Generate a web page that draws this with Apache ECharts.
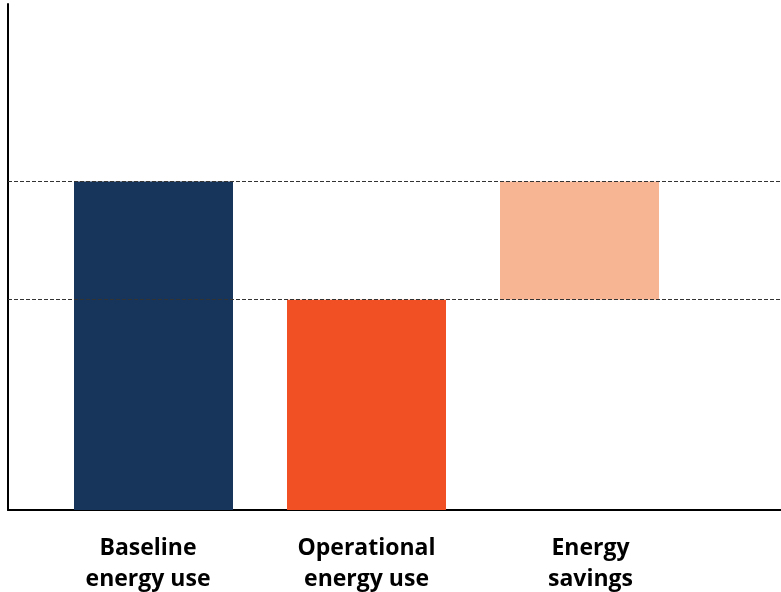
<!DOCTYPE html>
<html>
<head>
<meta charset="utf-8">
<title>Energy savings</title>
<script src="https://cdn.jsdelivr.net/npm/echarts@6/dist/echarts.min.js"></script>
<style>
  html, body { margin: 0; padding: 0; background: #fff; }
  #chart { width: 781px; height: 592px; }
</style>
</head>
<body>
<div id="chart"></div>
<script>
// data (baseline = 100)
const categories = ['Baseline\nenergy use', 'Operational\nenergy use', 'Energy\nsavings']
const barBase = ['-', '-', 64]          // invisible offset under the savings bar
const barValues = [100, 64, 36]
const barColors = ['#17355a', '#f05023', '#f8b594']
const refLines = [100, 64]              // dashed guides
const yMax = 154

// small nudges so the labels sit like the original
const labelPads = [[0, 11, 0, 0], [0, 0, 0, 0], [0, 0, 0, 22]]

const chart = echarts.init(document.getElementById('chart'))

chart.setOption({
  animation: false,
  grid: [
    // full-width grid: only the axis lines and dashed guides
    { left: 8, right: 0, top: 4, bottom: 82, outerBoundsMode: 'none' },
    // bars
    { left: 47, width: 639, top: 4, bottom: 82, outerBoundsMode: 'none' }
  ],
  xAxis: [
    {
      gridIndex: 0, type: 'value', min: 0, max: 1,
      axisLine: { show: true, lineStyle: { color: '#000', width: 2 } },
      axisTick: { show: false }, axisLabel: { show: false }, splitLine: { show: false }
    },
    {
      gridIndex: 1, type: 'category',
      data: categories.map((c, i) => ({ value: c, textStyle: { padding: labelPads[i] } })),
      axisLine: { show: false }, axisTick: { show: false },
      axisLabel: {
        margin: 23,
        color: '#000',
        fontFamily: 'Open Sans',
        fontWeight: 'bold',
        fontSize: 23,
        lineHeight: 31
      }
    }
  ],
  yAxis: [
    {
      gridIndex: 0, type: 'value', min: 0, max: yMax,
      axisLine: { show: true, lineStyle: { color: '#000', width: 2 } },
      axisTick: { show: false }, axisLabel: { show: false }, splitLine: { show: false }
    },
    {
      gridIndex: 1, type: 'value', min: 0, max: yMax, show: false
    }
  ],
  series: [
    {
      type: 'line',
      xAxisIndex: 0,
      yAxisIndex: 0,
      data: [],
      markLine: {
        silent: true,
        symbol: 'none',
        label: { show: false },
        lineStyle: { type: [4, 2], color: '#333', width: 1 },
        data: refLines.map(v => ({ yAxis: v }))
      }
    },
    {
      type: 'bar',
      xAxisIndex: 1,
      yAxisIndex: 1,
      stack: 'total',
      barWidth: 159,
      itemStyle: { color: 'transparent' },
      data: barBase
    },
    {
      type: 'bar',
      xAxisIndex: 1,
      yAxisIndex: 1,
      stack: 'total',
      barWidth: 159,
      data: barValues.map((v, i) => ({ value: v, itemStyle: { color: barColors[i] } }))
    }
  ]
})
</script>
</body>
</html>
